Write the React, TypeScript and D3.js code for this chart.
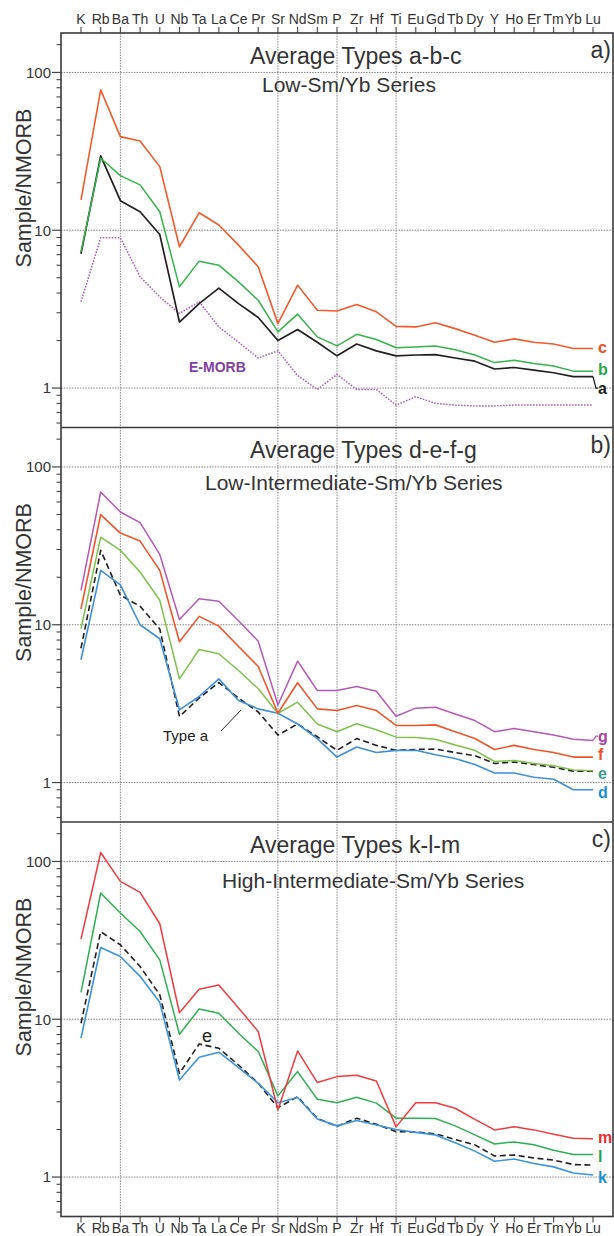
import React from "react";
import * as d3 from "d3";

const elements = ["K","Rb","Ba","Th","U","Nb","Ta","La","Ce","Pr","Sr","Nd","Sm","P","Zr","Hf","Ti","Eu","Gd","Tb","Dy","Y","Ho","Er","Tm","Yb","Lu"];
const gridElements = ["Ba","Sr","P","Ti"];
const yTickValues = [1, 10, 100];
const yTickLabels = ["1", "10", "100"];

// Panel a
const typeA = [7.1, 29.6, 15.4, 13.1, 9.4, 2.62, 3.43, 4.3, 3.43, 2.8, 2.0, 2.35, 1.95, 1.6, 1.9, 1.72, 1.6, 1.62, 1.63, 1.55, 1.48, 1.32, 1.35, 1.3, 1.25, 1.18, 1.18];
const typeB = [7.3, 28.6, 22.2, 19.4, 13.1, 4.38, 6.37, 6.01, 4.71, 3.6, 2.27, 2.94, 2.11, 1.85, 2.19, 2.03, 1.8, 1.82, 1.85, 1.75, 1.62, 1.45, 1.5, 1.43, 1.38, 1.28, 1.28];
const typeC = [15.6, 77.6, 39.2, 36.8, 25.3, 7.86, 12.9, 10.8, 8.05, 5.87, 2.56, 4.49, 3.11, 3.08, 3.39, 3.04, 2.46, 2.44, 2.59, 2.38, 2.16, 1.95, 2.05, 1.95, 1.9, 1.78, 1.78];
const eMorb = [3.52, 8.96, 8.96, 5.07, 3.78, 2.97, 3.52, 2.44, 1.95, 1.55, 1.72, 1.2, 0.98, 1.22, 0.98, 0.98, 0.78, 0.88, 0.8, 0.78, 0.77, 0.77, 0.78, 0.78, 0.78, 0.78, 0.78];

// Panel b
const typeD = [6.0, 22.1, 17.9, 10.0, 8.15, 2.89, 3.51, 4.54, 3.31, 2.93, 2.75, 2.35, 1.9, 1.45, 1.68, 1.55, 1.6, 1.6, 1.5, 1.42, 1.3, 1.15, 1.15, 1.08, 1.05, 0.9, 0.9];
const typeE = [9.43, 35.9, 29.6, 21.6, 14.3, 4.54, 6.97, 6.55, 5.13, 3.93, 2.75, 3.23, 2.35, 2.1, 2.36, 2.16, 1.94, 1.93, 1.88, 1.73, 1.6, 1.36, 1.38, 1.32, 1.28, 1.2, 1.19];
const typeF = [12.6, 49.9, 38.1, 33.9, 22.1, 7.8, 11.3, 9.8, 7.28, 5.44, 2.75, 4.29, 2.93, 2.86, 3.08, 2.86, 2.3, 2.3, 2.32, 2.1, 1.9, 1.62, 1.72, 1.62, 1.55, 1.45, 1.45];
const typeG = [16.5, 69.4, 51.8, 44.4, 27.9, 10.8, 14.6, 14.1, 10.6, 7.87, 3.1, 5.88, 3.83, 3.83, 4.06, 3.79, 2.63, 2.96, 3.0, 2.72, 2.47, 2.1, 2.2, 2.1, 2.0, 1.88, 1.85];

// Panel c
const typeK = [7.59, 28.5, 25.0, 18.7, 12.8, 4.12, 5.75, 6.18, 4.94, 3.93, 2.96, 3.19, 2.33, 2.11, 2.28, 2.14, 2.0, 1.92, 1.85, 1.65, 1.46, 1.26, 1.3, 1.22, 1.16, 1.06, 1.03];
const typeL = [14.8, 63.1, 47.1, 36.0, 23.8, 8.04, 11.6, 10.9, 8.16, 6.24, 3.27, 4.66, 3.11, 2.96, 3.2, 2.94, 2.36, 2.36, 2.35, 2.11, 1.85, 1.62, 1.67, 1.6, 1.48, 1.39, 1.39];
const typeM = [32.2, 114, 74.8, 63.7, 40.3, 11.0, 15.5, 16.5, 11.8, 8.36, 2.66, 6.3, 3.97, 4.33, 4.42, 4.06, 2.08, 2.96, 2.96, 2.73, 2.32, 1.99, 2.08, 1.99, 1.87, 1.76, 1.75];

const FONT = "'Liberation Sans', Arial, Helvetica, sans-serif";
const LEFT = 61;
const RIGHT = 613;
const PANEL_H = 394.5;
const TOP = 33;
const panelTops = [TOP, TOP + PANEL_H, TOP + 2 * PANEL_H];
const BOTTOM = TOP + 3 * PANEL_H;

const x = d3.scalePoint<string>().domain(elements).range([81, 593]);

type Series = { name: string; data: number[]; color: string; width?: number; dash?: string; label?: string; labelColor?: string; labelY?: number };

const panels = [
  {
    title: "Average Types a-b-c", titleX: 250,
    subtitle: "Low-Sm/Yb Series", subX: 262, subDy: 58.7,
    letter: "a)",
    series: [
      { name: "emorb", data: eMorb, color: "#b05cc0", width: 1.5, dash: "1.6,1.4" },
      { name: "a", data: typeA, color: "#231f20", width: 1.7, label: "a", labelColor: "#231f20", labelY: 1.0 },
      { name: "b", data: typeB, color: "#35b44a", width: 1.5, label: "b", labelColor: "#2aa84a", labelY: 1.31 },
      { name: "c", data: typeC, color: "#f15a2b", width: 1.6, label: "c", labelColor: "#f04e23", labelY: 1.8 },
    ] as Series[],
  },
  {
    title: "Average Types d-e-f-g", titleX: 250,
    subtitle: "Low-Intermediate-Sm/Yb Series", subX: 205, subDy: 62.5,
    letter: "b)",
    series: [
      { name: "typea", data: typeA, color: "#231f20", width: 1.6, dash: "6,3.5" },
      { name: "d", data: typeD, color: "#3d8fd8", width: 1.6, label: "d", labelColor: "#1a90d6", labelY: 0.87 },
      { name: "e", data: typeE, color: "#7cc24a", width: 1.5, label: "e", labelColor: "#3f9a8e", labelY: 1.15 },
      { name: "f", data: typeF, color: "#f2542a", width: 1.6, label: "f", labelColor: "#f04e23", labelY: 1.5 },
      { name: "g", data: typeG, color: "#b459b8", width: 1.5, label: "g", labelColor: "#a9449f", labelY: 1.97 },
    ] as Series[],
  },
  {
    title: "Average Types k-l-m", titleX: 250,
    subtitle: "High-Intermediate-Sm/Yb Series", subX: 222, subDy: 66,
    letter: "c)",
    series: [
      { name: "e2", data: typeE, color: "#231f20", width: 1.6, dash: "6,3.5" },
      { name: "k", data: typeK, color: "#3a95dc", width: 1.6, label: "k", labelColor: "#1a90d6", labelY: 0.99 },
      { name: "l", data: typeL, color: "#2fb050", width: 1.5, label: "l", labelColor: "#1aa64a", labelY: 1.36 },
      { name: "m", data: typeM, color: "#ef3b3f", width: 1.5, label: "m", labelColor: "#ee2a2e", labelY: 1.78 },
    ] as Series[],
  },
];

function yScaleFor(top: number) {
  return d3.scaleLog().domain([Math.pow(10, -0.25), Math.pow(10, 2.25)]).range([top + PANEL_H, top]);
}

const allMinor = [0.6, 0.7, 0.8, 0.9, 2, 3, 4, 5, 6, 7, 8, 9, 20, 30, 40, 50, 60, 70, 80, 90, 150];

export default function App() {
  const textColor = "#333";
  return (
    <svg width={614} height={1236} style={{ position: "absolute", left: 0, top: 0, background: "#fff" }} fontFamily={FONT}>
      <rect x={0} y={0} width={614} height={1236} fill="#fff" />
      {gridElements.map((e) => (
        <line key={e} x1={x(e)} x2={x(e)} y1={TOP} y2={BOTTOM} stroke="#777" strokeWidth={0.9} strokeDasharray="1.5,1.2" />
      ))}
      {panels.map((p, pi) => {
        const top = panelTops[pi];
        const y = yScaleFor(top);
        const line = d3.line<number>().x((_, i) => x(elements[i]) as number).y((v) => y(v));
        return (
          <g key={pi}>
            {yTickValues.map((v) => (
              <line key={v} x1={LEFT} x2={RIGHT} y1={y(v)} y2={y(v)} stroke="#777" strokeWidth={0.9} strokeDasharray="1.5,1.2" />
            ))}
            {allMinor.filter((v) => y(v) >= top && y(v) <= top + PANEL_H).map((v) => (
              <line key={"m" + v} x1={LEFT - 4.5} x2={LEFT} y1={y(v)} y2={y(v)} stroke="#444" strokeWidth={1.1} />
            ))}
            {yTickValues.map((v, i) => (
              <g key={"t" + v}>
                <line x1={LEFT - 9} x2={LEFT} y1={y(v)} y2={y(v)} stroke="#444" strokeWidth={1.2} />
                <text x={LEFT - 10} y={y(v)} dy="0.35em" textAnchor="end" fontSize={15} fill={textColor}>{yTickLabels[i]}</text>
              </g>
            ))}
            <text transform={`translate(23,${top + 155}) rotate(-90)`} textAnchor="middle" dy="0.35em" fontSize={21.5} fill={textColor}>Sample/NMORB</text>
            <text x={p.titleX} y={top + 30.5} fontSize={23} fill={textColor}>{p.title}</text>
            <text x={p.subX} y={top + p.subDy} fontSize={21} fill={textColor}>{p.subtitle}</text>
            <text x={611} y={top + 25} textAnchor="end" fontSize={23} fill={textColor}>{p.letter}</text>
            {p.series.map((s) => (
              <path key={s.name} d={line(s.data) || ""} fill="none" stroke={s.color} strokeWidth={s.width || 1.5} strokeDasharray={s.dash} strokeLinejoin="round" />
            ))}
            {p.series.filter((s) => s.label).map((s) => {
              const yEnd = y(s.data[s.data.length - 1]);
              const yl = y(s.labelY as number);
              const xe = x("Lu") as number;
              return (
                <g key={"l" + s.name}>
                  {Math.abs(yl - yEnd) > 4 && (
                    <polyline points={`${xe},${yEnd} ${xe + 3},${yl} ${xe + 5},${yl}`} fill="none" stroke={s.color} strokeWidth={1.3} />
                  )}
                  <text x={598} y={yl} dy="0.35em" fontSize={16} fontWeight="bold" fill={s.labelColor}>{s.label}</text>
                </g>
              );
            })}
          </g>
        );
      })}
      <text x={189} y={372} fontSize={14} fontWeight="bold" fill="#7e3f9f">E-MORB</text>
      <text x={163} y={741} fontSize={15} fill="#222">Type a</text>
      <line x1={221} y1={731} x2={241} y2={710} stroke="#222" strokeWidth={1} />
      <text x={207} y={1036} dy="0.35em" textAnchor="middle" fontSize={18} fill="#222">e</text>
      <rect x={LEFT} y={TOP} width={RIGHT - LEFT} height={BOTTOM - TOP} fill="none" stroke="#3a3a3a" strokeWidth={1.6} />
      <line x1={LEFT} x2={RIGHT} y1={panelTops[1]} y2={panelTops[1]} stroke="#3a3a3a" strokeWidth={1.6} />
      <line x1={LEFT} x2={RIGHT} y1={panelTops[2]} y2={panelTops[2]} stroke="#3a3a3a" strokeWidth={1.6} />
      {elements.map((e) => (
        <g key={e}>
          <line x1={x(e)} x2={x(e)} y1={TOP - 6} y2={TOP} stroke="#444" strokeWidth={1.1} />
          <line x1={x(e)} x2={x(e)} y1={BOTTOM} y2={BOTTOM + 6} stroke="#444" strokeWidth={1.1} />
          <text x={x(e)} y={24} textAnchor="middle" fontSize={14} fill={textColor}>{e}</text>
          <text x={x(e)} y={1233} textAnchor="middle" fontSize={14} fill={textColor}>{e}</text>
        </g>
      ))}
    </svg>
  );
}
